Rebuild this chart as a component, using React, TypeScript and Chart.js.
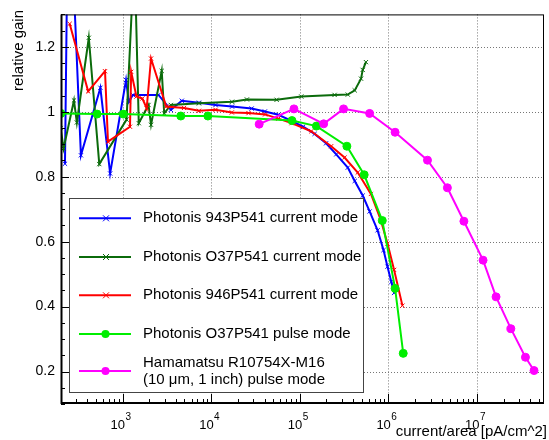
import React, { useEffect, useRef } from 'react';
import { Chart, registerables } from 'chart.js';

Chart.register(...registerables);

const FONT = '"Liberation Sans", Arial, Helvetica, sans-serif';

// ---- data ----
const blueX = [224, 245, 339, 562, 724, 1094, 1177, 1304, 2545, 3507, 4663, 7280, 11200, 17200, 28600, 40400, 57300, 80700, 109000, 147000, 198000, 258000, 348000, 417000, 513000, 614000, 755000, 881000, 977000, 1080000, 1160000];
const blueY = [0.84, 1.77, 0.866, 1.074, 0.81, 1.098, 1.031, 1.052, 1.052, 1.006, 1.034, 1.028, 1.021, 1.016, 1.01, 1.001, 0.991, 0.972, 0.954, 0.932, 0.903, 0.869, 0.828, 0.787, 0.742, 0.693, 0.635, 0.574, 0.523, 0.476, 0.442];

const dkGreenX = [200, 216, 283, 305, 416, 546, 1109, 1362, 1524, 1963, 2096, 2767, 2951, 3507, 7280, 17200, 25300, 54800, 104000, 247000, 348000, 417000, 491000, 513000, 558000];
const dkGreenY = [0.95, 0.887, 1.035, 0.967, 1.228, 0.839, 0.976, 1.49, 0.965, 1.021, 0.96, 1.126, 0.995, 1.021, 1.026, 1.031, 1.038, 1.037, 1.047, 1.052, 1.053, 1.066, 1.102, 1.129, 1.153];

const redX = [253, 409, 634, 685, 1213, 1251, 1435, 1675, 1872, 2096, 3110, 4940, 7280, 11200, 17100, 26400, 40600, 57300, 80700, 135000, 226000, 320000, 451000, 635000, 822000, 977000, 1160000, 1440000];
const redY = [1.271, 1.063, 1.125, 0.908, 0.954, 1.123, 1.047, 1.041, 1.011, 1.164, 1.016, 1.012, 1.003, 1.006, 0.998, 0.996, 0.992, 0.979, 0.965, 0.94, 0.894, 0.859, 0.813, 0.747, 0.666, 0.594, 0.513, 0.403];

const pulseX = [202, 515, 1018, 4540, 9180, 81600, 154000, 340000, 533000, 853000, 1190000, 1470000];
const pulseY = [0.995, 0.993, 0.993, 0.987, 0.987, 0.973, 0.956, 0.894, 0.806, 0.665, 0.456, 0.256];

const hamaX = [34800, 85900, 186000, 312000, 614000, 1190000, 2760000, 4630000, 7110000, 11700000, 16400000, 24100000, 35200000, 44000000];
const hamaY = [0.962, 1.009, 0.963, 1.009, 0.995, 0.937, 0.851, 0.766, 0.663, 0.543, 0.43, 0.332, 0.244, 0.203];

const seriesLabels = [
  ['Photonis 943P541 current mode'],
  ['Photonis O37P541 current mode'],
  ['Photonis 946P541 current mode'],
  ['Photonis O37P541 pulse mode'],
  ['Hamamatsu R10754X-M16', '(10 \u03bcm, 1 inch) pulse mode'],
];
const seriesColors = ['#0000ff', '#0b6b0b', '#ff0000', '#00ee00', '#ff00ff'];

const xMin = 202;
const xMax = 5.7e7;
const yMin = 0.1;
const yMax = 1.3;
const yTickLabels = [0.2, 0.4, 0.6, 0.8, 1, 1.2];
const xDecades = [3, 4, 5, 6, 7];
const xTitle = 'current/area [pA/cm^2]';
const yTitle = 'relative gain';

const zip = (xs: number[], ys: number[]) => xs.map((x, i) => ({ x, y: ys[i] }));

const rootPlugin = {
  id: 'rootStyle',
  beforeDatasetsDraw(chart: any) {
    const { ctx, chartArea: a, scales } = chart;
    const x = scales.x, y = scales.y;
    ctx.save();
    ctx.strokeStyle = '#777';
    ctx.lineWidth = 1;
    ctx.setLineDash([1, 2]);
    for (const v of yTickLabels) {
      const py = Math.round(y.getPixelForValue(v)) + 0.5;
      ctx.beginPath(); ctx.moveTo(a.left, py); ctx.lineTo(a.right, py); ctx.stroke();
    }
    for (const d of xDecades) {
      const px = Math.round(x.getPixelForValue(Math.pow(10, d))) + 0.5;
      ctx.beginPath(); ctx.moveTo(px, a.top); ctx.lineTo(px, a.bottom); ctx.stroke();
    }
    ctx.restore();
  },
  afterDatasetsDraw(chart: any) {
    const { ctx, chartArea: a, scales } = chart;
    const x = scales.x, y = scales.y;
    ctx.save();
    ctx.setLineDash([]);
    ctx.strokeStyle = '#000';
    // frame
    ctx.lineWidth = 1;
    ctx.strokeRect(a.left + 0.5, a.top + 0.5, a.right - a.left - 1, a.bottom - a.top - 1);
    ctx.lineWidth = 2;
    ctx.beginPath(); ctx.moveTo(a.left, a.bottom - 1); ctx.lineTo(a.right, a.bottom - 1); ctx.stroke();
    ctx.beginPath(); ctx.moveTo(a.left + 0.5, a.top); ctx.lineTo(a.left + 0.5, a.bottom); ctx.stroke();
    ctx.lineWidth = 1;
    // y ticks
    for (let k = 2; k <= 26; k++) {
      const v = k * 0.05;
      const py = Math.round(y.getPixelForValue(v)) + 0.5;
      const len = k % 4 === 0 ? 8 : 4;
      ctx.beginPath(); ctx.moveTo(a.left, py); ctx.lineTo(a.left + len, py); ctx.stroke();
    }
    // x ticks
    for (let d = 2; d <= 7; d++) {
      for (let m = 1; m <= 9; m++) {
        const v = m * Math.pow(10, d);
        if (v < xMin || v > xMax) continue;
        const px = Math.round(x.getPixelForValue(v)) + 0.5;
        const len = m === 1 ? 10 : 5;
        ctx.beginPath(); ctx.moveTo(px, a.bottom); ctx.lineTo(px, a.bottom - len); ctx.stroke();
      }
    }
    // legend
    const lx = 69, ly = 198, lw = 294, lh = 194;
    ctx.fillStyle = '#fff';
    ctx.fillRect(lx, ly, lw, lh);
    ctx.strokeStyle = '#444';
    ctx.lineWidth = 1;
    ctx.strokeRect(lx + 0.5, ly + 0.5, lw, lh);
    const rows = [218.3, 257, 295.3, 334, 371];
    chart.data.datasets.forEach((ds: any, i: number) => {
      const ry = rows[i];
      ctx.strokeStyle = ds.borderColor;
      ctx.lineWidth = 2;
      ctx.beginPath(); ctx.moveTo(79, ry); ctx.lineTo(131, ry); ctx.stroke();
      ctx.lineWidth = 1;
      if (ds.pointStyle === 'circle') {
        ctx.fillStyle = ds.borderColor;
        ctx.beginPath(); ctx.arc(105.5, ry, 4, 0, Math.PI * 2); ctx.fill();
      } else {
        ctx.beginPath();
        ctx.moveTo(103, ry - 3); ctx.lineTo(109, ry + 3);
        ctx.moveTo(109, ry - 3); ctx.lineTo(103, ry + 3);
        ctx.stroke();
      }
      const lines = seriesLabels[i];
      ctx.fillStyle = '#000';
      ctx.font = `15px ${FONT}`;
      ctx.textAlign = 'left';
      ctx.textBaseline = 'middle';
      if (lines.length === 1) {
        ctx.fillText(lines[0], 143, ry);
      } else {
        ctx.fillText(lines[0], 143, ry - 8.5);
        ctx.fillText(lines[1], 143, ry + 8.5);
      }
    });
    ctx.restore();
  },
  afterDraw(chart: any) {
    const { ctx, chartArea: a, scales } = chart;
    const x = scales.x;
    ctx.save();
    ctx.fillStyle = '#000';
    // x tick labels with superscript exponent
    for (const d of xDecades) {
      const px = x.getPixelForValue(Math.pow(10, d));
      ctx.font = `13px ${FONT}`;
      const wb = ctx.measureText('10').width;
      ctx.font = `10px ${FONT}`;
      const we = ctx.measureText(String(d)).width;
      const start = px - (wb + we) / 2 - 2;
      ctx.textAlign = 'left';
      ctx.textBaseline = 'alphabetic';
      ctx.font = `13px ${FONT}`;
      ctx.fillText('10', start, 429);
      ctx.font = `10px ${FONT}`;
      ctx.fillText(String(d), start + wb + 0.5, 420);
    }
    // axis titles
    ctx.font = `15px ${FONT}`;
    ctx.textAlign = 'right';
    ctx.textBaseline = 'alphabetic';
    ctx.fillText(xTitle, 547, 436);
    ctx.save();
    ctx.translate(23, 10);
    ctx.rotate(-Math.PI / 2);
    ctx.textAlign = 'right';
    ctx.fillText(yTitle, 0, 0);
    ctx.restore();
    ctx.restore();
  },
};

export default function App() {
  const ref = useRef<HTMLCanvasElement | null>(null);
  useEffect(() => {
    if (!ref.current) return;
    const mk = (label: string, xs: number[], ys: number[], color: string, style: string, order: number) => ({
      label,
      data: zip(xs, ys),
      borderColor: color,
      backgroundColor: color,
      borderWidth: 2,
      pointStyle: style,
      pointRadius: style === 'circle' ? 4 : 3,
      pointBorderWidth: 1,
      pointBorderColor: color,
      pointBackgroundColor: color,
      tension: 0,
      order,
    });
    const chart = new Chart(ref.current, {
      type: 'line',
      data: {
        datasets: [
          mk(seriesLabels[0].join(' '), blueX, blueY, seriesColors[0], 'crossRot', 4),
          mk(seriesLabels[1].join(' '), dkGreenX, dkGreenY, seriesColors[1], 'crossRot', 3),
          mk(seriesLabels[2].join(' '), redX, redY, seriesColors[2], 'crossRot', 2),
          mk(seriesLabels[3].join(' '), pulseX, pulseY, seriesColors[3], 'circle', 1),
          mk(seriesLabels[4].join(' '), hamaX, hamaY, seriesColors[4], 'circle', 0),
        ] as any,
      },
      options: {
        animation: false,
        responsive: false,
        devicePixelRatio: 1,
        layout: { padding: { top: 12, right: 1, left: 0, bottom: 0 } },
        plugins: { legend: { display: false }, tooltip: { enabled: false } },
        scales: {
          x: {
            type: 'logarithmic',
            min: xMin,
            max: xMax,
            grid: { display: false, drawTicks: false },
            border: { display: false },
            ticks: { display: false },
            afterFit: (s: any) => { s.height = 36; },
          },
          y: {
            type: 'linear',
            min: yMin,
            max: yMax,
            grid: { display: false, drawTicks: false },
            border: { display: false },
            afterBuildTicks: (s: any) => { s.ticks = yTickLabels.map((v) => ({ value: v })); },
            ticks: {
              padding: 6,
              color: '#000',
              font: { family: FONT, size: 14 },
              callback: (v: any) => (Number(v) === 1 ? '1' : Number(v).toFixed(1)),
            },
            afterFit: (s: any) => { s.width = 61; },
          },
        },
      } as any,
      plugins: [rootPlugin],
    });
    return () => chart.destroy();
  }, []);
  return (
    <div style={{ position: 'absolute', left: 0, top: 0, width: 549, height: 440, background: '#fff' }}>
      <canvas ref={ref} width={549} height={440} style={{ display: 'block' }} />
    </div>
  );
}
